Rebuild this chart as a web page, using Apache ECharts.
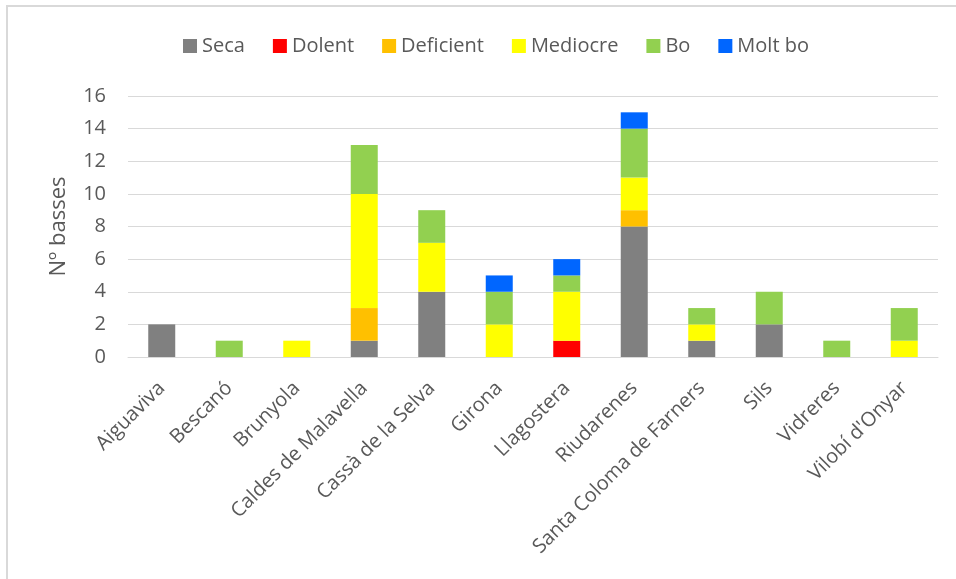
<!DOCTYPE html>
<html>
<head>
<meta charset="utf-8">
<script src="https://cdn.jsdelivr.net/npm/echarts@6/dist/echarts.min.js"></script>
<style>
  html, body { margin: 0; padding: 0; background: #fff; }
  #main { width: 956px; height: 579px; }
</style>
</head>
<body>
<div id="main"></div>
<script>
// dades
var municipis = ['Aiguaviva', 'Bescanó', 'Brunyola', 'Caldes de Malavella', 'Cassà de la Selva',
  'Girona', 'Llagostera', 'Riudarenes', 'Santa Coloma de Farners', 'Sils', 'Vidreres', "Vilobí d'Onyar"];
var seca      = [2, 0, 0, 1, 4, 0, 0, 8, 1, 2, 0, 0];
var dolent    = [0, 0, 0, 0, 0, 0, 1, 0, 0, 0, 0, 0];
var deficient = [0, 0, 0, 2, 0, 0, 0, 1, 0, 0, 0, 0];
var mediocre  = [0, 0, 1, 7, 3, 2, 3, 2, 1, 0, 0, 1];
var bo        = [0, 1, 0, 3, 2, 2, 1, 3, 1, 2, 1, 2];
var moltBo    = [0, 0, 0, 0, 0, 1, 1, 1, 0, 0, 0, 0];

var noms = ['Seca', 'Dolent', 'Deficient', 'Mediocre', 'Bo', 'Molt bo'];
var colors = ['#808080', '#ff0000', '#ffc000', '#ffff00', '#92d050', '#0066ff'];
var valors = [seca, dolent, deficient, mediocre, bo, moltBo];

var myChart = echarts.init(document.getElementById('main'));

var series = noms.map(function (n, i) {
  return {
    name: n,
    type: 'bar',
    stack: 'total',
    barWidth: 27,
    itemStyle: { color: colors[i] },
    data: valors[i].map(function (v) { return v === 0 ? null : v; })
  };
});

var option = {
  animation: false,
  textStyle: { fontFamily: 'Open Sans' },
  graphic: [{
    type: 'rect',
    shape: { x: 7, y: 6, width: 1200, height: 1000 },
    style: { fill: 'none', stroke: '#d9d9d9', lineWidth: 2 }
  }],
  legend: {
    top: 31,
    left: 178,
    itemWidth: 14,
    itemHeight: 14,
    itemGap: 28,
    icon: 'rect',
    textStyle: { fontSize: 20, color: '#595959' },
    data: noms
  },
  grid: { left: 128, right: 18, top: 96, bottom: 222 },
  xAxis: {
    type: 'category',
    data: municipis,
    axisLine: { lineStyle: { color: '#d9d9d9', width: 1 } },
    axisTick: { show: false },
    axisLabel: { rotate: 45, interval: 0, fontSize: 20, color: '#595959', margin: 28 }
  },
  yAxis: {
    type: 'value',
    min: 0,
    max: 16,
    interval: 2,
    name: 'Nº basses',
    nameLocation: 'middle',
    nameGap: 58,
    nameTextStyle: { fontSize: 22, color: '#595959' },
    axisLine: { show: false },
    axisTick: { show: false },
    axisLabel: { fontSize: 20, color: '#595959', margin: 22 },
    splitLine: { lineStyle: { color: '#d9d9d9', width: 1 } }
  },
  series: series
};

myChart.setOption(option);
</script>
</body>
</html>
